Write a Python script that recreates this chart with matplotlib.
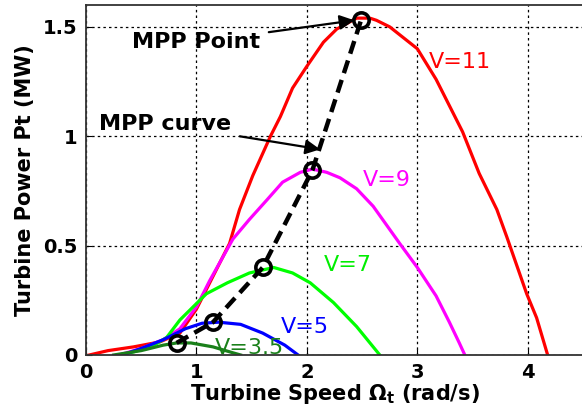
#!/usr/bin/env python3

import matplotlib
matplotlib.use("Agg")
import matplotlib.pyplot as plt

# turbine power curves (speed rad/s, power MW)
w11 = [0.03, 0.2, 0.43, 0.67, 0.85, 1.0, 1.15, 1.3, 1.39, 1.51, 1.67, 1.76,
       1.87, 2.0, 2.15, 2.27, 2.45, 2.57, 2.63, 2.75, 3.0, 3.17, 3.41, 3.56,
       3.72, 3.81, 3.99, 4.08, 4.18]
p11 = [0.0, 0.02, 0.037, 0.06, 0.10, 0.21, 0.36, 0.51, 0.665, 0.82, 1.0, 1.09,
       1.22, 1.32, 1.43, 1.49, 1.54, 1.54, 1.53, 1.50, 1.40, 1.26, 1.02, 0.83,
       0.665, 0.54, 0.28, 0.17, 0.0]
w9 = [0.3, 0.5, 0.7, 0.85, 1.0, 1.12, 1.33, 1.48, 1.64, 1.78, 1.94, 2.05,
      2.18, 2.30, 2.45, 2.60, 2.84, 3.0, 3.17, 3.29, 3.38, 3.43]
p9 = [0.0, 0.03, 0.07, 0.12, 0.22, 0.34, 0.53, 0.62, 0.71, 0.79, 0.835, 0.85,
      0.835, 0.81, 0.76, 0.68, 0.51, 0.40, 0.27, 0.15, 0.055, 0.0]
w7 = [0.3, 0.43, 0.6, 0.73, 0.85, 0.97, 1.09, 1.28, 1.48, 1.7, 1.87, 2.03,
      2.24, 2.45, 2.66]
p7 = [0.0, 0.014, 0.04, 0.08, 0.16, 0.22, 0.28, 0.33, 0.375, 0.40, 0.375,
      0.33, 0.24, 0.13, 0.0]
w5 = [0.33, 0.5, 0.7, 0.9, 1.05, 1.2, 1.4, 1.6, 1.8, 1.92]
p5 = [0.0, 0.03, 0.07, 0.12, 0.145, 0.15, 0.14, 0.10, 0.045, 0.0]
w35 = [0.25, 0.5, 0.7, 0.82, 0.95, 1.15, 1.33, 1.4]
p35 = [0.0, 0.02, 0.045, 0.055, 0.055, 0.037, 0.01, 0.0]

# maximum power points
mpp_w = [0.82, 1.15, 1.60, 2.05, 2.49]
mpp_p = [0.055, 0.15, 0.40, 0.845, 1.53]

xticks = [0, 1, 2, 3, 4]
yticks = [0, 0.5, 1, 1.5]
ytick_labels = ["0", "0.5", "1", "1.5"]

fig = plt.figure(figsize=(5.82, 4.20), dpi=100)
ax = fig.add_axes([0.1478, 0.1548, 0.8539, 0.8333])

ax.plot(w11, p11, color="#ff0000", lw=2.3)
ax.plot(w9, p9, color="#ff00ff", lw=2.3)
ax.plot(w7, p7, color="#00ff00", lw=2.3)
ax.plot(w5, p5, color="#0000ff", lw=2.3)
ax.plot(w35, p35, color="#1a801a", lw=2.3)

ax.plot(mpp_w, mpp_p, color="k", lw=3.2, ls=(0, (3, 1.6)),
        marker="o", ms=11, mfc="none", mec="k", mew=2.6)

ax.text(3.1, 1.34, "V=11", color="#ff0000", fontsize=16, va="center")
ax.text(2.51, 0.80, "V=9", color="#ff00ff", fontsize=16, va="center")
ax.text(2.15, 0.41, "V=7", color="#00ee00", fontsize=16, va="center")
ax.text(1.76, 0.13, "V=5", color="#0000ff", fontsize=16, va="center")
ax.text(1.17, 0.03, "V=3.5", color="#1a801a", fontsize=16, va="center")

arrow = dict(arrowstyle="-|>", color="k", lw=1.6, mutation_scale=22,
             shrinkA=4, shrinkB=0)
ax.annotate("MPP Point", xy=(2.43, 1.53), xytext=(1.0, 1.43),
            ha="center", va="center", fontsize=16, fontweight="bold",
            arrowprops=arrow)
ax.annotate("MPP curve", xy=(2.12, 0.94), xytext=(0.72, 1.055),
            ha="center", va="center", fontsize=16, fontweight="bold",
            arrowprops=arrow)

ax.set_xlim(0, 4.5)
ax.set_ylim(0, 1.6)
ax.set_xticks(xticks)
ax.set_yticks(yticks)
ax.set_yticklabels(ytick_labels)
ax.tick_params(direction="in", length=4, labelsize=14, pad=6)
for lab in ax.get_xticklabels() + ax.get_yticklabels():
    lab.set_fontweight("bold")
ax.grid(True, color="k", ls=(0, (2, 2.5)), lw=0.9)
for s in ax.spines.values():
    s.set_linewidth(1.3)
    s.set_color("#333333")

ax.set_xlabel(r"Turbine Speed $\mathbf{\Omega_t}$ (rad/s)", fontsize=15,
              fontweight="bold", labelpad=0)
ax.set_ylabel("Turbine Power Pt (MW)", fontsize=15, fontweight="bold",
              labelpad=6)

fig.savefig("out.png", dpi=100)
